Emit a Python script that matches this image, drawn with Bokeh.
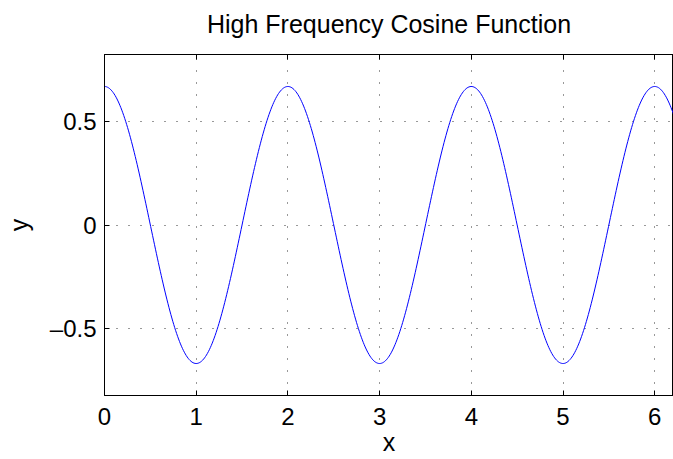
import numpy as np
from bokeh.plotting import figure
from bokeh.models import Range1d, LinearAxis, FixedTicker, Title
from bokeh.embed import file_html
from bokeh.resources import INLINE

# Data
amplitude = 0.667          # peak value of the curve
period = 2.0               # distance between successive peaks
x_start, x_stop = 0.0, 2 * np.pi
x_ticks = [0, 1, 2, 3, 4, 5, 6]
y_ticks = [-0.5, 0, 0.5]
y_tick_labels = {-0.5: "\u20130.5", 0: "0", 0.5: "0.5"}

x = np.linspace(x_start, x_stop, 600)
y = amplitude * np.cos(2 * np.pi * x / period)

FONT = "Liberation Sans"

p = figure(width=673, height=459, output_backend="svg", toolbar_location=None,
           x_range=Range1d(0, 6.205), y_range=Range1d(-0.821, 0.821),
           min_border_left=104, min_border_right=0, min_border_top=54,
           min_border_bottom=64, title=None)
p.background_fill_color = "white"
p.border_fill_color = "white"
p.outline_line_color = "black"
p.outline_line_width = 1

p.line(x, y, line_color="#0000ff", line_width=1)

for ax in (p.xaxis[0], p.yaxis[0]):
    ax.major_tick_in = 5
    ax.major_tick_out = 0
    ax.minor_tick_line_color = None
    ax.axis_line_color = "black"
    ax.major_tick_line_color = "black"
    ax.major_label_text_font = FONT
    ax.major_label_text_font_size = "24px"
    ax.major_label_text_color = "black"
    ax.axis_label_text_font = FONT
    ax.axis_label_text_font_size = "25px"
    ax.axis_label_text_font_style = "normal"
    ax.axis_label_text_color = "black"

p.xaxis[0].axis_label = "x"
p.yaxis[0].axis_label = "y"
p.xaxis[0].ticker = FixedTicker(ticks=x_ticks)
p.yaxis[0].ticker = FixedTicker(ticks=y_ticks)
p.yaxis[0].major_label_overrides = y_tick_labels
p.xaxis[0].major_label_standoff = 12
p.xaxis[0].axis_label_standoff = 0
p.yaxis[0].major_label_standoff = 8
p.yaxis[0].axis_label_standoff = 14

# top box edge with inward ticks (mirrored x ticks, no labels)
top = LinearAxis(ticker=FixedTicker(ticks=x_ticks))
top.major_tick_in = 5
top.major_tick_out = 0
top.minor_tick_line_color = None
top.major_label_overrides = {t: "" for t in x_ticks}
top.major_label_text_font_size = "1px"
top.major_label_standoff = 0
top.axis_line_color = "black"
p.add_layout(top, "above")

# invisible spacer axis that lifts the title away from the box
spacer = LinearAxis(ticker=FixedTicker(ticks=x_ticks))
spacer.major_tick_in = 0
spacer.major_tick_out = 17
spacer.major_tick_line_color = None
spacer.minor_tick_line_color = None
spacer.axis_line_color = None
spacer.major_label_overrides = {t: "" for t in x_ticks}
spacer.major_label_text_font_size = "1px"
spacer.major_label_standoff = 0
p.add_layout(spacer, "above")

title = Title(text="High Frequency Cosine Function", align="center",
              text_font=FONT, text_font_size="25px", text_font_style="normal",
              text_color="black", standoff=0)
p.add_layout(title, "above")

p.xgrid.ticker = FixedTicker(ticks=x_ticks)
p.ygrid.ticker = FixedTicker(ticks=y_ticks)
for g in (p.xgrid[0], p.ygrid[0]):
    g.grid_line_color = "#333333"
    g.grid_line_dash = "1 11"
    g.grid_line_width = 1

open("out.html", "w").write(file_html(p, INLINE))
